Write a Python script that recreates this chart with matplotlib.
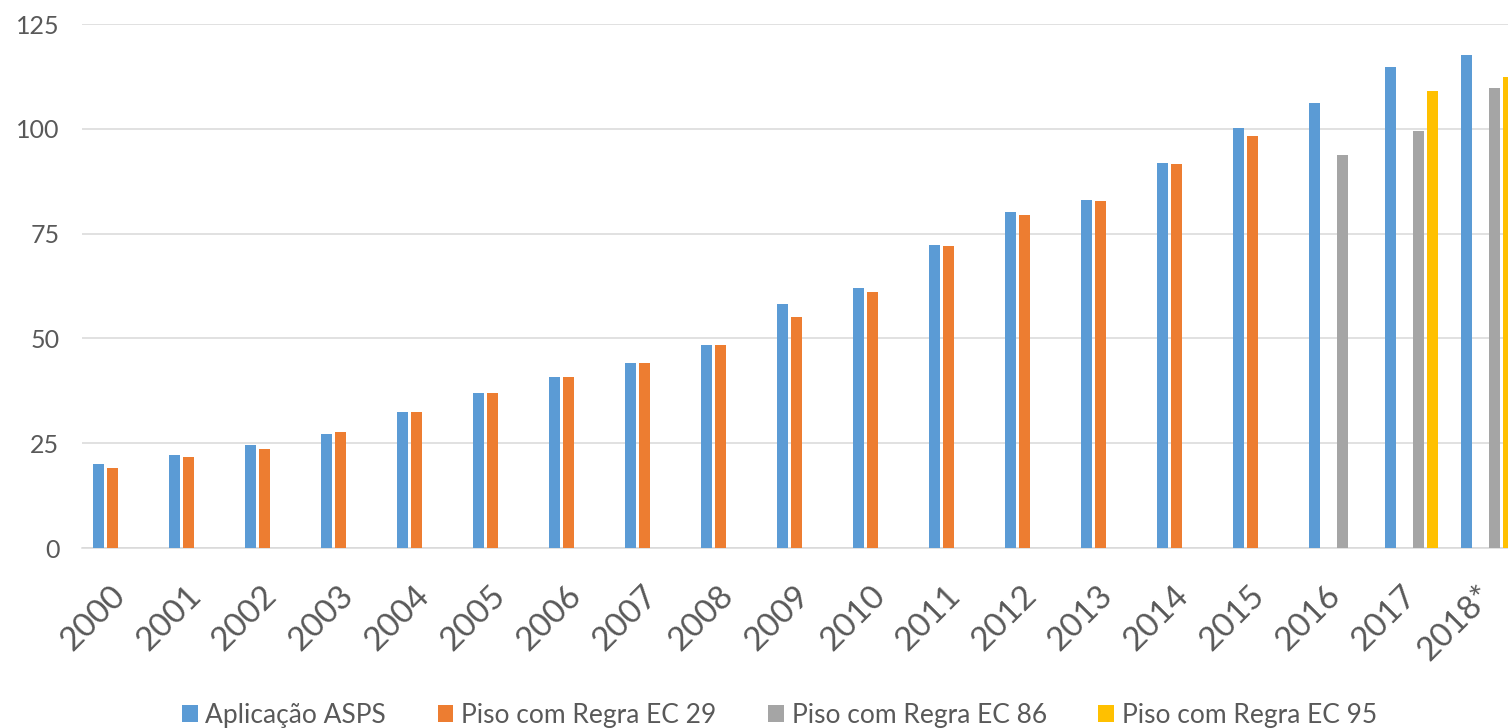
import numpy as np
import matplotlib
matplotlib.use('Agg')
from matplotlib import pyplot as plt
from matplotlib.transforms import ScaledTranslation

nan = np.nan

anos = ['2000', '2001', '2002', '2003', '2004', '2005', '2006', '2007', '2008', '2009',
        '2010', '2011', '2012', '2013', '2014', '2015', '2016', '2017', '2018*']

aplicacao_asps = [20.1, 22.3, 24.6, 27.1, 32.5, 37.0, 40.7, 44.2, 48.5, 58.1,
                  62.0, 72.2, 80.1, 82.9, 91.8, 100.1, 106.2, 114.8, 117.6]
piso_ec29 = [19.1, 21.6, 23.5, 27.7, 32.5, 37.0, 40.7, 44.2, 48.4, 55.0,
             61.1, 72.0, 79.5, 82.8, 91.5, 98.2, nan, nan, nan]
piso_ec86 = [nan] * 16 + [93.7, 99.5, 109.8]
piso_ec95 = [nan] * 17 + [109.0, 112.4]

series = [
    ('Aplicação ASPS', aplicacao_asps, '#5B9BD5'),
    ('Piso com Regra EC 29', piso_ec29, '#ED7D31'),
    ('Piso com Regra EC 86', piso_ec86, '#A5A5A5'),
    ('Piso com Regra EC 95', piso_ec95, '#FFC000'),
]

plt.rcParams['font.family'] = ['Lato', 'DejaVu Sans']
cinza_texto = '#595959'
cinza_grade = '#D9D9D9'

fig = plt.figure(figsize=(15.08, 7.28), dpi=100)
ax = fig.add_axes([81.7 / 1508, 1 - 548 / 728, 1 - 81.7 / 1508, (548 - 24) / 728])

x = np.arange(len(anos))
passo = 0.184
largura = 0.15
for i, (nome, valores, cor) in enumerate(series):
    ax.bar(x + (i - 1.5) * passo, valores, largura, color=cor, label=nome, zorder=3)

ax.set_ylim(0, 125)
ax.set_yticks([0, 25, 50, 75, 100, 125])
ax.set_xlim(-0.5, (1508 - 81.7) / 76 - 0.5)
ax.set_xticks(x)
ax.set_xticklabels(anos, rotation=45, ha='right', va='top', rotation_mode='anchor',
                   fontsize=24, color=cinza_texto)
ax.tick_params(axis='x', length=0, pad=23)
ax.tick_params(axis='y', length=0, pad=16, labelsize=18, labelcolor=cinza_texto)

# rotated year labels sit a little left of the category centre
desloca = ScaledTranslation(-10 / 100, 0, fig.dpi_scale_trans)
for rotulo in ax.get_xticklabels():
    rotulo.set_transform(rotulo.get_transform() + desloca)

ax.grid(axis='y', color=cinza_grade, linewidth=1.1, zorder=0)
for lado in ['top', 'right', 'left']:
    ax.spines[lado].set_visible(False)
ax.spines['bottom'].set_color(cinza_grade)
ax.spines['bottom'].set_linewidth(1.1)

ax.legend(loc='center', bbox_to_anchor=(779.5 / 1508, 13 / 728), bbox_transform=fig.transFigure,
          ncol=4, frameon=False, fontsize=19, labelcolor=cinza_texto,
          handlelength=0.6, handleheight=0.6, handletextpad=0.3, columnspacing=1.95)

fig.savefig('out.png', dpi=100)
